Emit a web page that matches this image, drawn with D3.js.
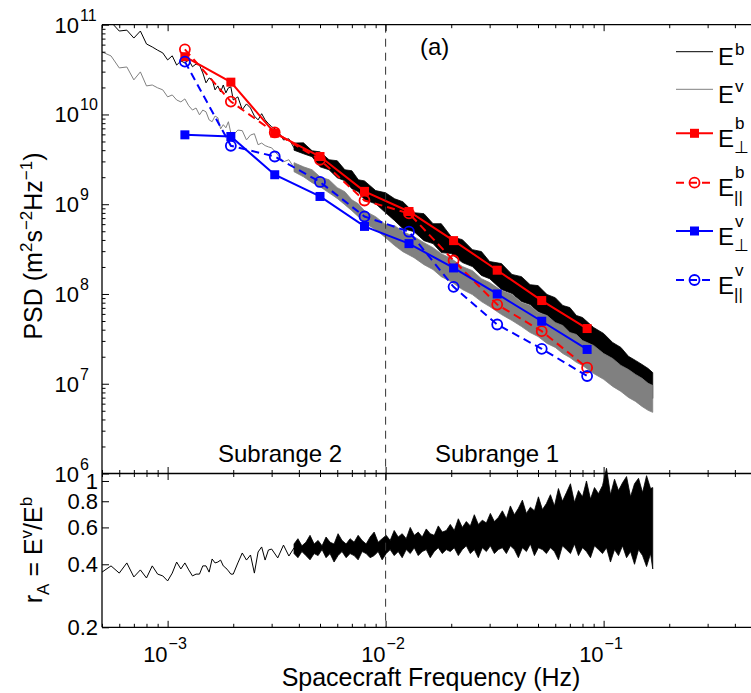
<!DOCTYPE html>
<html><head><meta charset="utf-8">
<script src="https://cdn.jsdelivr.net/npm/d3@7/dist/d3.min.js"></script>
<style>
html,body{margin:0;padding:0;background:#fff;}
svg{display:block;}
text{font-family:"Liberation Sans",Arial,Helvetica,sans-serif;fill:#000;}
</style></head><body>
<svg id="chart" width="751" height="693"></svg>
<script>
// ---------- data ----------
// low-frequency part of the spectra (individual wiggles visible)
const traceFreq = [5.0e-4,5.5e-4,6.0e-4,6.5e-4,7.0e-4,7.5e-4,8.0e-4,8.5e-4,9.0e-4,9.5e-4,
  1.0e-3,1.05e-3,1.1e-3,1.15e-3,1.2e-3,1.25e-3,1.3e-3,1.35e-3,1.4e-3,1.45e-3,
  1.5e-3,1.55e-3,1.6e-3,1.65e-3,1.7e-3,1.75e-3,1.8e-3,1.85e-3,1.9e-3,1.95e-3,
  2.0e-3,2.1e-3,2.2e-3,2.3e-3,2.4e-3,2.5e-3,2.6e-3,2.7e-3,2.8e-3,2.9e-3,
  3.0e-3,3.2e-3,3.4e-3,3.6e-3,3.8e-3,4.0e-3];
const ebTrace = [1.19e11,1.07e11,8.5e10,8.7e10,7.1e10,8.5e10,6.1e10,5.65e10,5.2e10,4.85e10,
  4.05e10,4.5e10,3.55e10,3.95e10,3.75e10,4.05e10,3.4e10,3.65e10,3.55e10,2.9e10,
  2.25e10,2.55e10,2.45e10,1.88e10,2.08e10,1.78e10,2.13e10,1.74e10,1.98e10,2.03e10,
  1.45e10,1.57e10,1.13e10,1.31e10,1.18e10,9.6e9,8.7e9,1.02e10,8.7e9,7.9e9,
  7.3e9,6.6e9,5.2e9,5.35e9,4.25e9,4.45e9];
const evTrace = [4.97e10,4.49e10,3.3e10,3.38e10,2.43e10,2.98e10,2.08e10,2.13e10,1.98e10,1.88e10,
  1.57e10,1.65e10,1.45e10,1.38e10,1.49e10,1.25e10,1.12e10,1.18e10,9.9e9,1.12e10,
  1.07e10,8.7e9,8.3e9,9.6e9,9.2e9,6.9e9,7.7e9,7.1e9,8.3e9,6.2e9,
  5.9e9,6.7e9,6.6e9,5.2e9,5.9e9,6.1e9,4.6e9,4.8e9,4.5e9,4.35e9,
  4.25e9,3.55e9,2.97e9,3.13e9,2.55e9,2.6e9];
const raTrace = [0.367,0.393,0.363,0.406,0.348,0.376,0.344,0.393,0.359,0.352,
  0.333,0.363,0.410,0.380,0.406,0.376,0.352,0.359,0.359,0.393,
  0.393,0.367,0.424,0.406,0.410,0.419,0.393,0.384,0.372,0.359,
  0.359,0.406,0.453,0.419,0.443,0.363,0.458,0.484,0.419,0.468,
  0.473,0.429,0.494,0.438,0.479,0.458];

// high-frequency part of the spectra: dense noise, lower / upper envelope
const bandFreq = [3.8e-3,4.2e-3,4.6e-3,5.0e-3,5.5e-3,6.0e-3,6.5e-3,7.0e-3,7.5e-3,8.0e-3,
  9.0e-3,1.0e-2,1.1e-2,1.2e-2,1.35e-2,1.5e-2,1.65e-2,1.8e-2,2.0e-2,2.25e-2,
  2.5e-2,2.75e-2,3.0e-2,3.4e-2,3.8e-2,4.2e-2,4.6e-2,5.0e-2,5.5e-2,6.0e-2,
  6.5e-2,7.0e-2,7.5e-2,8.0e-2,9.0e-2,1.0e-1,1.1e-1,1.2e-1,1.3e-1,1.4e-1,
  1.5e-1,1.6e-1,1.68e-1];
const ebBandHi = [4.8e9,4.83e9,3.94e9,3.83e9,3.13e9,3.05e9,2.42e9,2.36e9,1.87e9,1.82e9,
  1.42e9,1.34e9,1.15e9,1.065e9,8.05e8,7.84e8,6.07e8,6.07e8,4.35e8,4.03e8,
  3.12e8,2.97e8,2.30e8,2.18e8,1.65e8,1.56e8,1.27e8,1.24e8,9.87e7,9.09e7,
  7.44e7,7.06e7,5.76e7,5.47e7,4.23e7,3.63e7,2.88e7,2.54e7,2.02e7,1.82e7,
  1.64e7,1.48e7,1.33e7];
const ebBandLo = [4.0e9,3.65e9,3.38e9,2.61e9,2.42e9,1.97e9,1.83e9,1.49e9,1.38e9,1.12e9,
  1.01e9,8.04e8,6.56e8,5.35e8,4.95e8,3.93e8,3.64e8,2.89e8,2.82e8,2.24e8,
  2.02e8,1.61e8,1.48e8,1.12e8,1.01e8,8.24e7,7.63e7,6.38e7,5.75e7,4.69e7,
  4.34e7,3.63e7,3.36e7,2.81e7,2.35e7,1.87e7,1.60e7,1.30e7,1.12e7,9.57e6,
  8.43e6,7.23e6,6.87e6];
const evBandHi = [2.9e9,2.61e9,2.42e9,2.02e9,1.87e9,1.53e9,1.38e9,1.12e9,1.01e9,8.47e8,
  7.26e8,5.92e8,5.77e8,4.95e8,4.35e8,3.73e8,3.28e8,2.81e8,2.48e8,2.02e8,
  1.82e8,1.48e8,1.34e8,1.09e8,9.85e7,8.03e7,7.43e7,6.21e7,5.75e7,4.81e7,
  4.45e7,3.72e7,3.54e7,3.03e7,2.67e7,2.17e7,1.91e7,1.60e7,1.44e7,1.27e7,
  1.15e7,1.01e7,9.58e6];
const evBandLo = [2.3e9,2.02e9,1.74e9,1.57e9,1.34e9,1.16e9,9.88e8,8.47e8,7.27e8,6.23e8,
  5.21e8,4.24e8,3.46e8,2.96e8,2.54e8,2.12e8,1.87e8,1.56e8,1.37e8,1.12e8,
  9.85e7,8.23e7,7.24e7,5.90e7,5.06e7,4.34e7,3.72e7,3.36e7,2.81e7,2.54e7,
  2.17e7,1.96e7,1.73e7,1.60e7,1.30e7,1.12e7,9.34e6,8.21e6,7.04e6,6.36e6,
  5.59e6,5.05e6,4.80e6];

// high-frequency part of r_A: lower / upper envelope of the noise
const raBandFreq = [3.80e-3,3.96e-3,4.13e-3,4.31e-3,4.50e-3,4.70e-3,4.90e-3,5.11e-3,5.33e-3,5.56e-3,
  5.80e-3,6.05e-3,6.31e-3,6.59e-3,6.87e-3,7.17e-3,7.48e-3,7.80e-3,8.14e-3,8.49e-3,
  8.86e-3,9.24e-3,9.64e-3,1.006e-2,1.049e-2,1.095e-2,1.142e-2,1.191e-2,1.243e-2,1.297e-2,
  1.353e-2,1.411e-2,1.472e-2,1.536e-2,1.602e-2,1.671e-2,1.744e-2,1.819e-2,1.898e-2,1.980e-2,
  2.065e-2,2.155e-2,2.248e-2,2.345e-2,2.446e-2,2.552e-2,2.662e-2,2.777e-2,2.897e-2,3.023e-2,
  3.153e-2,3.289e-2,3.432e-2,3.580e-2,3.735e-2,3.896e-2,4.064e-2,4.240e-2,4.423e-2,4.614e-2,
  4.814e-2,5.022e-2,5.239e-2,5.465e-2,5.701e-2,5.948e-2,6.205e-2,6.473e-2,6.753e-2,7.045e-2,
  7.349e-2,7.667e-2,7.998e-2,8.344e-2,8.704e-2,9.080e-2,9.473e-2,9.882e-2,1.031e-1,1.075e-1,
  1.122e-1,1.170e-1,1.221e-1,1.274e-1,1.329e-1,1.386e-1,1.446e-1,1.509e-1,1.574e-1,1.642e-1,
  1.68e-1];
const raBandHi = [0.50,0.53,0.49,0.51,0.55,0.50,0.52,0.49,0.54,0.51,
  0.50,0.56,0.52,0.50,0.53,0.51,0.55,0.52,0.50,0.54,
  0.57,0.51,0.53,0.55,0.52,0.58,0.54,0.56,0.53,0.60,
  0.55,0.57,0.54,0.59,0.56,0.55,0.61,0.57,0.58,0.62,
  0.58,0.66,0.60,0.64,0.61,0.69,0.62,0.65,0.63,0.70,
  0.64,0.67,0.72,0.66,0.76,0.69,0.74,0.81,0.70,0.75,
  0.72,0.84,0.73,0.78,0.86,0.76,0.92,0.80,0.88,0.97,
  0.79,0.90,0.84,1.00,0.82,0.93,0.87,0.95,1.15,0.86,
  1.02,0.90,0.98,1.05,0.84,0.97,1.03,0.88,1.06,0.92,
  0.93];
const raBandLo = [0.45,0.43,0.46,0.44,0.42,0.45,0.44,0.47,0.43,0.45,
  0.41,0.44,0.46,0.43,0.45,0.44,0.42,0.46,0.45,0.43,
  0.44,0.46,0.42,0.45,0.47,0.44,0.46,0.43,0.47,0.45,
  0.48,0.44,0.46,0.47,0.43,0.46,0.48,0.45,0.47,0.46,
  0.48,0.44,0.47,0.49,0.45,0.47,0.43,0.48,0.46,0.49,
  0.45,0.47,0.48,0.45,0.49,0.47,0.43,0.48,0.46,0.50,
  0.44,0.48,0.47,0.45,0.48,0.46,0.42,0.49,0.47,0.45,
  0.50,0.44,0.48,0.46,0.43,0.49,0.47,0.45,0.48,0.41,
  0.47,0.44,0.49,0.43,0.46,0.40,0.47,0.44,0.39,0.45,
  0.38];

// binned subrange estimates
const markerFreq = [1.2e-3,1.95e-3,3.1e-3,5.0e-3,8.0e-3,1.28e-2,2.05e-2,3.25e-2,5.2e-2,8.4e-2];
const ePerpB = [4.4e10,2.29e10,6.2e9,3.4e9,1.39e9,8.3e8,3.93e8,1.84e8,8.45e7,4.12e7];
const eParB  = [5.32e10,1.39e10,6.3e9,3.13e9,1.10e9,7.9e8,2.36e8,7.62e7,3.85e7,1.51e7];
const ePerpV = [5.93e9,5.68e9,2.13e9,1.22e9,5.66e8,3.64e8,1.95e8,1.0e8,4.97e7,2.41e7];
const eParV  = [3.88e10,4.48e9,3.4e9,1.77e9,7.3e8,4.94e8,1.2e8,4.57e7,2.45e7,1.22e7];

// ticks
const psdTickVals = [1e6,1e7,1e8,1e9,1e10,1e11];
const psdTickExp  = ['6','7','8','9','10','11'];
const ratioTickVals = [0.2,0.4,0.6,0.8,1];
const ratioTickText = ['0.2','0.4','0.6','0.8','1'];
const freqTickVals = [1e-3,1e-2,1e-1];
const freqTickExp  = ['\u22123','\u22122','\u22121'];
const subrangeBoundary = 1e-2;

// ---------- layout ----------
const W = 751, H = 693;
const L = 102, T = 24.7, MID = 473.5, B = 627.3;
const x = d3.scaleLog().domain([5e-4, 1]).range([L, L + 218 * Math.log10(2000)]);
const yTop = d3.scaleLog().domain([1e6, 1e11]).range([MID, T]);
const yBot = d3.scaleLog().domain([0.2, 1.0857]).range([B, MID]);

const svg = d3.select('#chart');
svg.append('rect').attr('width', W).attr('height', H).attr('fill', '#fff');
svg.append('defs').append('clipPath').attr('id', 'clipTop')
  .append('rect').attr('x', L).attr('y', T).attr('width', W - L).attr('height', MID - T);

const topG = svg.append('g').attr('clip-path', 'url(#clipTop)');
const botG = svg.append('g');

const pairs = (fs, vs) => fs.map((f, i) => [f, vs[i]]);
const band = (fs, lo, hi) => fs.map((f, i) => ({ f, lo: lo[i], hi: hi[i] }));

const lineTop = d3.line().x(d => x(d[0])).y(d => yTop(d[1]));
const areaTop = d3.area().x(d => x(d.f)).y0(d => yTop(d.lo)).y1(d => yTop(d.hi));
const lineBot = d3.line().x(d => x(d[0])).y(d => yBot(d[1]));
const areaBot = d3.area().x(d => x(d.f)).y0(d => yBot(d.lo)).y1(d => yBot(d.hi));

// E^b (black) then E^v (gray)
[[ebTrace, ebBandLo, ebBandHi, '#000'], [evTrace, evBandLo, evBandHi, '#808080']].forEach(([tr, lo, hi, col]) => {
  topG.append('path').attr('d', lineTop(pairs(traceFreq, tr)))
    .attr('fill', 'none').attr('stroke', col).attr('stroke-width', 1);
  topG.append('path').attr('d', areaTop(band(bandFreq, lo, hi)))
    .attr('fill', col).attr('stroke', col).attr('stroke-width', 0.8).attr('stroke-linejoin', 'miter');
});

// ratio panel
botG.append('path').attr('d', lineBot(pairs(traceFreq, raTrace)))
  .attr('fill', 'none').attr('stroke', '#000').attr('stroke-width', 1);
botG.append('path').attr('d', areaBot(band(raBandFreq, raBandLo, raBandHi)))
  .attr('fill', '#000').attr('stroke', '#000').attr('stroke-width', 0.8).attr('stroke-linejoin', 'miter');

// subrange boundary
svg.append('line').attr('x1', x(subrangeBoundary)).attr('x2', x(subrangeBoundary))
  .attr('y1', T).attr('y2', B).attr('stroke', '#333').attr('stroke-width', 1)
  .attr('stroke-dasharray', '8,6');

// marker series
const series = [
  { vals: ePerpB, color: '#ff0000', dash: null, marker: 'square' },
  { vals: eParB,  color: '#ff0000', dash: '8,5', marker: 'circle' },
  { vals: ePerpV, color: '#0000ff', dash: null, marker: 'square' },
  { vals: eParV,  color: '#0000ff', dash: '8,5', marker: 'circle' }
];
function drawMarker(g, cx, cy, s) {
  if (s.marker === 'square') {
    g.append('rect').attr('x', cx - 4.5).attr('y', cy - 4.5).attr('width', 9).attr('height', 9)
      .attr('fill', s.color);
  } else {
    g.append('circle').attr('cx', cx).attr('cy', cy).attr('r', 5)
      .attr('fill', 'none').attr('stroke', s.color).attr('stroke-width', 1.8);
  }
}
series.forEach(s => {
  const d = pairs(markerFreq, s.vals);
  const p = topG.append('path').attr('d', lineTop(d)).attr('fill', 'none')
    .attr('stroke', s.color).attr('stroke-width', 2);
  if (s.dash) p.attr('stroke-dasharray', s.dash);
  d.forEach(v => drawMarker(topG, x(v[0]), yTop(v[1]), s));
});

// ---------- axes ----------
function tickAxis(gen, scale, vals, size, tr) {
  const g = svg.append('g').attr('transform', tr)
    .call(gen(scale).tickValues(vals).tickSize(size).tickFormat(''));
  g.select('.domain').remove();
  g.selectAll('line').attr('stroke', '#000').attr('stroke-width', 1);
}
const isMajor = v => Math.abs(Math.log10(v) - Math.round(Math.log10(v))) < 1e-9;
const xAll = x.ticks();
const xMaj = xAll.filter(isMajor), xMin = xAll.filter(v => !isMajor(v));
const yAll = yTop.ticks();
const yMaj = yAll.filter(isMajor), yMin = yAll.filter(v => !isMajor(v));

// top panel
tickAxis(d3.axisRight, yTop, yMaj, 7, `translate(${L},0)`);
tickAxis(d3.axisRight, yTop, yMin, 3.5, `translate(${L},0)`);
tickAxis(d3.axisBottom, x, xMaj, 6.5, `translate(0,${T})`);
tickAxis(d3.axisBottom, x, xMin, 3.5, `translate(0,${T})`);
tickAxis(d3.axisTop, x, xMaj, 6.5, `translate(0,${MID})`);
tickAxis(d3.axisTop, x, xMin, 3.5, `translate(0,${MID})`);
// bottom panel
tickAxis(d3.axisBottom, x, xMaj, 6.5, `translate(0,${MID})`);
tickAxis(d3.axisBottom, x, xMin, 3.5, `translate(0,${MID})`);
tickAxis(d3.axisTop, x, xMaj, 6.5, `translate(0,${B})`);
tickAxis(d3.axisTop, x, xMin, 3.5, `translate(0,${B})`);
tickAxis(d3.axisRight, yBot, ratioTickVals, 7, `translate(${L},0)`);

// frame lines
const frame = svg.append('g').attr('stroke', '#000').attr('stroke-width', 1.3);
frame.append('line').attr('x1', L).attr('x2', L).attr('y1', T).attr('y2', B);
[T, MID, B].forEach(yy => frame.append('line').attr('x1', L).attr('x2', W).attr('y1', yy).attr('y2', yy));

// tick labels
const lab = svg.append('g');
psdTickVals.forEach((v, i) => {
  const yy = yTop(v);
  lab.append('text').attr('x', 79).attr('y', yy + 8).attr('text-anchor', 'end')
    .attr('font-size', 22).text('10');
  lab.append('text').attr('x', 80).attr('y', yy - 4).attr('text-anchor', 'start')
    .attr('font-size', 16).text(psdTickExp[i]);
});
ratioTickVals.forEach((v, i) => {
  lab.append('text').attr('x', 98).attr('y', yBot(v) + 8).attr('text-anchor', 'end')
    .attr('font-size', 22).text(ratioTickText[i]);
});
freqTickVals.forEach((v, i) => {
  const xx = x(v);
  lab.append('text').attr('x', xx).attr('y', 662).attr('text-anchor', 'end')
    .attr('font-size', 22).text('10');
  lab.append('text').attr('x', xx + 1).attr('y', 649).attr('text-anchor', 'start')
    .attr('font-size', 16).text(freqTickExp[i]);
});

// axis titles
svg.append('text').attr('x', 431).attr('y', 686).attr('text-anchor', 'middle')
  .attr('font-size', 25).text('Spacecraft Frequency (Hz)');

const psd = svg.append('text').attr('transform', 'translate(42,246) rotate(-90)')
  .attr('text-anchor', 'middle').attr('font-size', 25);
psd.append('tspan').text('PSD (m');
psd.append('tspan').attr('dy', -10).attr('font-size', 17).text('2');
psd.append('tspan').attr('dy', 10).text('s');
psd.append('tspan').attr('dy', -10).attr('font-size', 17).text('\u22122');
psd.append('tspan').attr('dy', 10).text('Hz');
psd.append('tspan').attr('dy', -10).attr('font-size', 17).text('\u22121');
psd.append('tspan').attr('dy', 10).text(')');

const ra = svg.append('text').attr('transform', 'translate(42,550) rotate(-90)')
  .attr('text-anchor', 'middle').attr('font-size', 25);
ra.append('tspan').text('r');
ra.append('tspan').attr('dy', 7).attr('font-size', 17).text('A');
ra.append('tspan').attr('dy', -7).text(' = E');
ra.append('tspan').attr('dy', -10).attr('font-size', 17).text('v');
ra.append('tspan').attr('dy', 10).text('/E');
ra.append('tspan').attr('dy', -10).attr('font-size', 17).text('b');

// annotations
svg.append('text').attr('x', 420).attr('y', 55).attr('font-size', 24).text('(a)');
svg.append('text').attr('x', 218).attr('y', 462).attr('font-size', 24).text('Subrange 2');
svg.append('text').attr('x', 435).attr('y', 462).attr('font-size', 24).text('Subrange 1');

// legend
const legendItems = [
  { sup: 'b', sub: null, color: '#000', width: 1, dash: null, marker: null },
  { sup: 'v', sub: null, color: '#808080', width: 1, dash: null, marker: null },
  { sup: 'b', sub: '\u22A5', color: '#ff0000', width: 2, dash: null, marker: 'square' },
  { sup: 'b', sub: '||', color: '#ff0000', width: 2, dash: '8,5', marker: 'circle' },
  { sup: 'v', sub: '\u22A5', color: '#0000ff', width: 2, dash: null, marker: 'square' },
  { sup: 'v', sub: '||', color: '#0000ff', width: 2, dash: '8,5', marker: 'circle' }
];
const legendY = [51.7, 89.3, 133.3, 182.7, 231, 280];
const leg = svg.append('g');
legendItems.forEach((it, i) => {
  const ly = legendY[i];
  const ln = leg.append('line').attr('x1', 676).attr('x2', 713).attr('y1', ly).attr('y2', ly)
    .attr('stroke', it.color).attr('stroke-width', it.width);
  if (it.dash) ln.attr('stroke-dasharray', it.dash);
  if (it.marker) drawMarker(leg, 694.5, ly, { marker: it.marker, color: it.color });
  leg.append('text').attr('x', 718).attr('y', ly + 13.5).attr('font-size', 24).text('E');
  leg.append('text').attr('x', 735).attr('y', it.sub ? ly - 4.5 : ly + 3).attr('font-size', 17).text(it.sup);
  if (it.sub) leg.append('text').attr('x', 734).attr('y', ly + 20).attr('font-size', 17).text(it.sub);
});
</script>
</body></html>
